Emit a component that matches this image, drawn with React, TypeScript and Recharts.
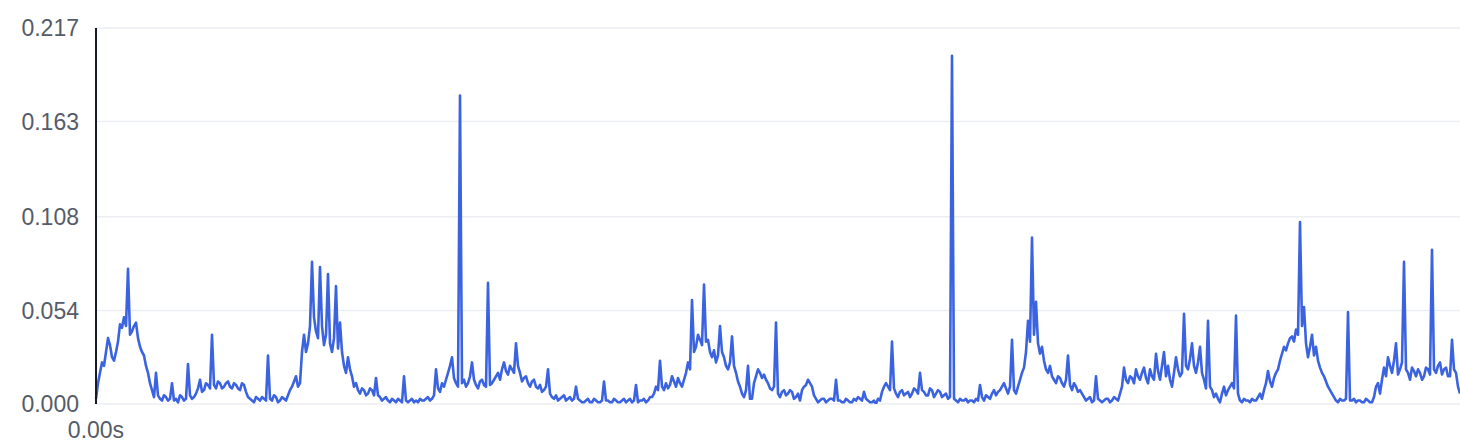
import React from "react";
import { LineChart, Line, XAxis, YAxis, CartesianGrid } from "recharts";

// Sampled signal values: even samples
const evenSamples: number[] = [
  0.003, 0.018, 0.022, 0.038, 0.027, 0.030, 0.046, 0.050, 0.078, 0.042,
  0.047, 0.033, 0.028, 0.018, 0.008, 0.018, 0.003, 0.005, 0.002, 0.012,
  0.003, 0.005, 0.002, 0.023, 0.003, 0.006, 0.014, 0.008, 0.011, 0.040,
  0.009, 0.012, 0.010, 0.013, 0.009, 0.011, 0.008, 0.011, 0.004, 0.002,
  0.004, 0.002, 0.003, 0.028, 0.002, 0.004, 0.002, 0.003, 0.005, 0.010,
  0.016, 0.012, 0.040, 0.035, 0.082, 0.042, 0.079, 0.034, 0.075, 0.030,
  0.068, 0.047, 0.022, 0.027, 0.016, 0.012, 0.006, 0.008, 0.006, 0.008,
  0.015, 0.004, 0.003, 0.002, 0.003, 0.001, 0.002, 0.016, 0.001, 0.003,
  0.002, 0.003, 0.002, 0.004, 0.003, 0.020, 0.007, 0.010, 0.018, 0.027,
  0.012, 0.178, 0.014, 0.012, 0.024, 0.011, 0.013, 0.011, 0.070, 0.012,
  0.016, 0.014, 0.024, 0.017, 0.020, 0.035, 0.018, 0.015, 0.012, 0.013,
  0.010, 0.011, 0.008, 0.020, 0.004, 0.005, 0.003, 0.005, 0.003, 0.002,
  0.010, 0.002, 0.001, 0.003, 0.001, 0.002, 0.001, 0.013, 0.002, 0.001,
  0.002, 0.001, 0.003, 0.002, 0.001, 0.011, 0.002, 0.003, 0.002, 0.004,
  0.010, 0.025, 0.008, 0.009, 0.016, 0.010, 0.012, 0.014, 0.024, 0.060,
  0.033, 0.037, 0.069, 0.037, 0.027, 0.024, 0.045, 0.027, 0.020, 0.039,
  0.018, 0.010, 0.004, 0.022, 0.003, 0.016, 0.018, 0.017, 0.012, 0.008,
  0.047, 0.004, 0.008, 0.006, 0.007, 0.004, 0.002, 0.010, 0.014, 0.010,
  0.003, 0.002, 0.003, 0.002, 0.003, 0.014, 0.002, 0.001, 0.002, 0.001,
  0.002, 0.003, 0.007, 0.002, 0.001, 0.000, 0.002, 0.010, 0.010, 0.036,
  0.006, 0.007, 0.005, 0.007, 0.006, 0.008, 0.018, 0.007, 0.005, 0.008,
  0.006, 0.007, 0.005, 0.003, 0.201, 0.002, 0.003, 0.002, 0.001, 0.002,
  0.003, 0.011, 0.002, 0.004, 0.006, 0.005, 0.008, 0.012, 0.006, 0.037,
  0.006, 0.014, 0.021, 0.048, 0.096, 0.059, 0.029, 0.025, 0.018, 0.016,
  0.012, 0.015, 0.010, 0.028, 0.008, 0.010, 0.008, 0.004, 0.003, 0.001,
  0.016, 0.002, 0.002, 0.003, 0.002, 0.003, 0.006, 0.021, 0.012, 0.015,
  0.020, 0.014, 0.021, 0.012, 0.016, 0.029, 0.014, 0.030, 0.022, 0.010,
  0.027, 0.016, 0.052, 0.020, 0.035, 0.018, 0.033, 0.014, 0.048, 0.008,
  0.006, 0.001, 0.010, 0.008, 0.012, 0.051, 0.002, 0.003, 0.002, 0.003,
  0.002, 0.006, 0.008, 0.019, 0.010, 0.018, 0.025, 0.033, 0.035, 0.039,
  0.043, 0.105, 0.056, 0.027, 0.040, 0.033, 0.021, 0.016, 0.010, 0.006,
  0.002, 0.003, 0.002, 0.053, 0.002, 0.001, 0.002, 0.001, 0.002, 0.001,
  0.010, 0.006, 0.021, 0.027, 0.018, 0.035, 0.020, 0.082, 0.018, 0.021,
  0.016, 0.018, 0.016, 0.020, 0.089, 0.018, 0.024, 0.020, 0.016, 0.037,
  0.018, 0.006,
];

// Sampled signal values: odd samples (between the even ones)
const oddSamples: number[] = [
  0.012, 0.024, 0.030, 0.034, 0.025, 0.036, 0.044, 0.045, 0.040, 0.045,
  0.038, 0.030, 0.022, 0.012, 0.004, 0.005, 0.002, 0.004, 0.003, 0.002,
  0.001, 0.004, 0.003, 0.005, 0.004, 0.009, 0.007, 0.012, 0.009, 0.011,
  0.013, 0.009, 0.012, 0.010, 0.012, 0.009, 0.012, 0.007, 0.003, 0.001,
  0.003, 0.004, 0.002, 0.003, 0.005, 0.001, 0.004, 0.002, 0.008, 0.013,
  0.010, 0.030, 0.030, 0.045, 0.050, 0.038, 0.045, 0.040, 0.035, 0.038,
  0.032, 0.030, 0.018, 0.020, 0.010, 0.008, 0.009, 0.005, 0.009, 0.005,
  0.005, 0.002, 0.004, 0.001, 0.002, 0.003, 0.001, 0.002, 0.002, 0.001,
  0.001, 0.002, 0.003, 0.002, 0.005, 0.009, 0.012, 0.014, 0.022, 0.015,
  0.010, 0.012, 0.010, 0.016, 0.014, 0.009, 0.014, 0.010, 0.011, 0.014,
  0.018, 0.020, 0.019, 0.022, 0.018, 0.022, 0.013, 0.016, 0.010, 0.014,
  0.009, 0.007, 0.010, 0.006, 0.003, 0.002, 0.004, 0.002, 0.004, 0.003,
  0.003, 0.001, 0.002, 0.001, 0.003, 0.001, 0.002, 0.002, 0.001, 0.003,
  0.001, 0.002, 0.001, 0.003, 0.002, 0.001, 0.002, 0.001, 0.004, 0.006,
  0.008, 0.010, 0.012, 0.011, 0.013, 0.015, 0.010, 0.018, 0.020, 0.030,
  0.040, 0.034, 0.036, 0.030, 0.031, 0.028, 0.030, 0.022, 0.024, 0.022,
  0.013, 0.006, 0.008, 0.003, 0.012, 0.020, 0.015, 0.014, 0.009, 0.010,
  0.006, 0.007, 0.005, 0.008, 0.003, 0.006, 0.008, 0.011, 0.012, 0.005,
  0.001, 0.003, 0.001, 0.003, 0.002, 0.002, 0.001, 0.003, 0.001, 0.003,
  0.004, 0.002, 0.003, 0.001, 0.002, 0.003, 0.007, 0.012, 0.008, 0.009,
  0.004, 0.008, 0.006, 0.004, 0.009, 0.006, 0.008, 0.005, 0.009, 0.004,
  0.008, 0.004, 0.006, 0.004, 0.003, 0.001, 0.002, 0.003, 0.002, 0.001,
  0.002, 0.004, 0.005, 0.003, 0.008, 0.007, 0.010, 0.009, 0.010, 0.008,
  0.010, 0.018, 0.030, 0.036, 0.040, 0.035, 0.033, 0.020, 0.022, 0.014,
  0.016, 0.012, 0.014, 0.011, 0.012, 0.007, 0.006, 0.002, 0.004, 0.002,
  0.003, 0.001, 0.003, 0.001, 0.004, 0.002, 0.010, 0.014, 0.016, 0.012,
  0.016, 0.018, 0.015, 0.020, 0.014, 0.019, 0.022, 0.016, 0.014, 0.018,
  0.020, 0.018, 0.022, 0.026, 0.022, 0.024, 0.018, 0.009, 0.010, 0.004,
  0.003, 0.006, 0.005, 0.010, 0.009, 0.006, 0.001, 0.002, 0.001, 0.002,
  0.004, 0.003, 0.012, 0.013, 0.015, 0.020, 0.029, 0.031, 0.038, 0.036,
  0.040, 0.045, 0.035, 0.033, 0.028, 0.025, 0.018, 0.013, 0.008, 0.004,
  0.001, 0.002, 0.003, 0.002, 0.003, 0.002, 0.001, 0.003, 0.001, 0.004,
  0.012, 0.014, 0.016, 0.022, 0.025, 0.017, 0.024, 0.020, 0.014, 0.019,
  0.020, 0.014, 0.021, 0.017, 0.020, 0.022, 0.017, 0.021, 0.016, 0.020,
  0.010,
];

const yTicks: number[] = [0, 0.054, 0.108, 0.163, 0.217];
const xTicks: number[] = [0];
const xTickLabels: string[] = ["0.00s"];

const data: { t: number; v: number }[] = [];
evenSamples.forEach((v, i) => {
  data.push({ t: 2 * i, v });
  if (i < oddSamples.length) data.push({ t: 2 * i + 1, v: oddSamples[i] });
});

const FONT = "'Liberation Sans', Arial, sans-serif";
const LABEL_COLOR = "#555b68";

export default function App() {
  return (
    <div style={{ position: "absolute", left: 0, top: 0, width: 1460, height: 444, background: "#fff" }}>
      <LineChart
        width={1460}
        height={444}
        data={data}
        margin={{ top: 28, right: 0, bottom: 0, left: 0 }}
      >
        <CartesianGrid vertical={false} stroke="#eceef2" strokeWidth={1.5} />
        <XAxis
          dataKey="t"
          type="number"
          domain={[0, data.length - 1]}
          ticks={xTicks}
          tickFormatter={(v: number) => xTickLabels[xTicks.indexOf(v)] ?? ""}
          axisLine={false}
          tickLine={false}
          tickSize={0}
          tickMargin={18}
          height={40}
          interval={0}
          tick={{ fontSize: 23, fill: LABEL_COLOR, fontFamily: FONT }}
        />
        <YAxis
          type="number"
          domain={[0, 0.217]}
          ticks={yTicks}
          tickFormatter={(v: number) => v.toFixed(3)}
          width={96}
          axisLine={{ stroke: "#161a26", strokeWidth: 2 }}
          tickLine={false}
          tickSize={0}
          tickMargin={17}
          interval={0}
          allowDataOverflow
          tick={{ fontSize: 23, fill: LABEL_COLOR, fontFamily: FONT }}
        />
        <Line
          type="linear"
          dataKey="v"
          stroke="#3b63e0"
          strokeWidth={2.6}
          strokeLinejoin="round"
          dot={false}
          activeDot={false}
          isAnimationActive={false}
        />
      </LineChart>
    </div>
  );
}
